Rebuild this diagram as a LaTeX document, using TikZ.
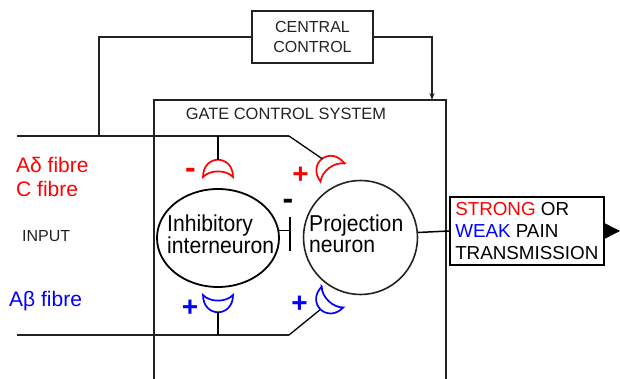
\documentclass[tikz,border=0pt]{standalone}
\usepackage{fontspec}
\setmainfont{Liberation Sans}
\usetikzlibrary{shapes.geometric,arrows.meta}
\definecolor{ink}{HTML}{222222}
\definecolor{pred}{HTML}{FF0000}
\definecolor{pblue}{HTML}{0000FF}
\begin{document}
\begin{tikzpicture}[x=1pt,y=-1pt,
  scanline/.style={draw=ink, line width=1.3pt},
  ctlline/.style={draw=ink, line width=1.8pt},
  inputline/.style={draw=ink, line width=2.4pt},
  stemline/.style={draw=black, line width=1.3pt},
  pics/syn/.style={code={
    \draw[line width=1.7pt,#1] (-15,0) .. controls (-15,23) and (15,23) .. (15,0)
      .. controls (8,7.5) and (-8,7.5) .. cycle;
    \coordinate (-apex) at (0,17.2);}},
  scantxt/.style={font=\fontsize{16}{19.4}\selectfont, text=ink, inner sep=0},
  fibre/.style={font=\fontsize{21}{24}\selectfont, inner sep=0, anchor=base west},
  neurtxt/.style={font=\fontsize{23}{21}\selectfont, inner sep=0, align=left,
    anchor=west, xscale=0.92, transform shape},
  plussign/.style={font=\fontsize{28}{28}\selectfont\bfseries, inner sep=0},
  minussign/.style={font=\fontsize{32}{32}\selectfont\bfseries, inner sep=0},
]
\useasboundingbox (0,0) rectangle (620,379);

% central control
\node[draw=ink, line width=1.3pt, scantxt, align=center, minimum width=121,
  minimum height=52] (cc) at (312.5,37) {CENTRAL\\CONTROL};

% gate control system box (open at the bottom)
\draw[scanline] (154,379) -- (154,100) -- (446,100) -- (446,379);
\node[scantxt, font=\fontsize{16.4}{19}\selectfont] (gcs) at (286,114) {GATE CONTROL SYSTEM};

% input lines
\coordinate (in1s) at (17,136);
\coordinate (tapA) at (99,136);
\coordinate (tapB) at (218,136);
\coordinate (in1b) at (289,136);
\coordinate (in2s) at (17,335);
\coordinate (tapC) at (218,335);
\coordinate (in2b) at (289,335);
\coordinate (gateTop) at (432,100);

\draw[inputline] (in1s) -- (in1b);
\draw[inputline] (in2s) -- (in2b);
\draw[ctlline] (cc.west) -| (tapA);
\draw[ctlline,-{Stealth[length=7pt,width=5pt]}] (cc.east) -| (gateTop);

% synapses
\pic[rotate=180] (rm) at (218,177) {syn=pred};
\pic[rotate=217] (rp) at (332.5,172.5) {syn=pred};
\pic[rotate=0] (bc) at (218,295) {syn=pblue};
\pic[rotate=-44] (bp) at (332.5,297) {syn=pblue};

\draw[stemline] (tapB) -- (rm-apex);
\draw[stemline] (in1b) -- (rp-apex);
\draw[stemline] (tapC) -- (bc-apex);
\draw[stemline] (in2b) -- (bp-apex);

% signs
\node[minussign, text=pred] (sm1) at (190.5,173.5) {-};
\node[plussign, text=pred] (sp1) at (300.5,175) {+};
\node[plussign, text=pblue] (sp2) at (190,308) {+};
\node[plussign, text=pblue] (sp3) at (299.5,304) {+};
\node[minussign] (sm2) at (288,204) {-};

% neurons
\node[draw=black, line width=1.8pt, ellipse, minimum width=122, minimum height=98,
  inner sep=0] (inh) at (218,238) {};
\node[draw=ink, line width=1.6pt, circle, minimum size=114, inner sep=0] (proj)
  at (360.5,237.5) {};
\node[neurtxt] (inhT) at (167,234) {Inhibitory\\interneuron};
\node[neurtxt] (projT) at (309,234) {Projection\\neuron};

% inhibition bar
\coordinate (barT) at (290,217);
\coordinate (barB) at (290,251);
\draw[line width=1.6pt] (barT) -- (barB);
\draw[line width=1.6pt] (inh.7) -- (inh.7 -| barT);

% output
\node[draw=black, line width=1.5pt, font=\fontsize{18.8}{21.7}\selectfont,
  align=left, inner xsep=5.5, inner ysep=0, minimum width=154, minimum height=68,
  anchor=west] (out) at (449,231)
  {{\color{pred}STRONG} OR\\{\color{pblue}WEAK} PAIN\\TRANSMISSION};
\coordinate (outEnd) at (620,231);
\draw[line width=1.5pt] (proj.5.5) -- (out.west);
\draw[line width=1.5pt,-{Triangle[length=15pt,width=15pt]}] (out.east) -- (outEnd);

% input labels
\node[fibre, text=pred] (ad) at (16,173) {Aδ fibre};
\node[fibre, text=pred] (cf) at (16,196.7) {C fibre};
\node[fibre, text=pblue] (ab) at (9,306.7) {Aβ fibre};
\node[scantxt, anchor=west] (inp) at (22,236) {INPUT};
\end{tikzpicture}
\end{document}
